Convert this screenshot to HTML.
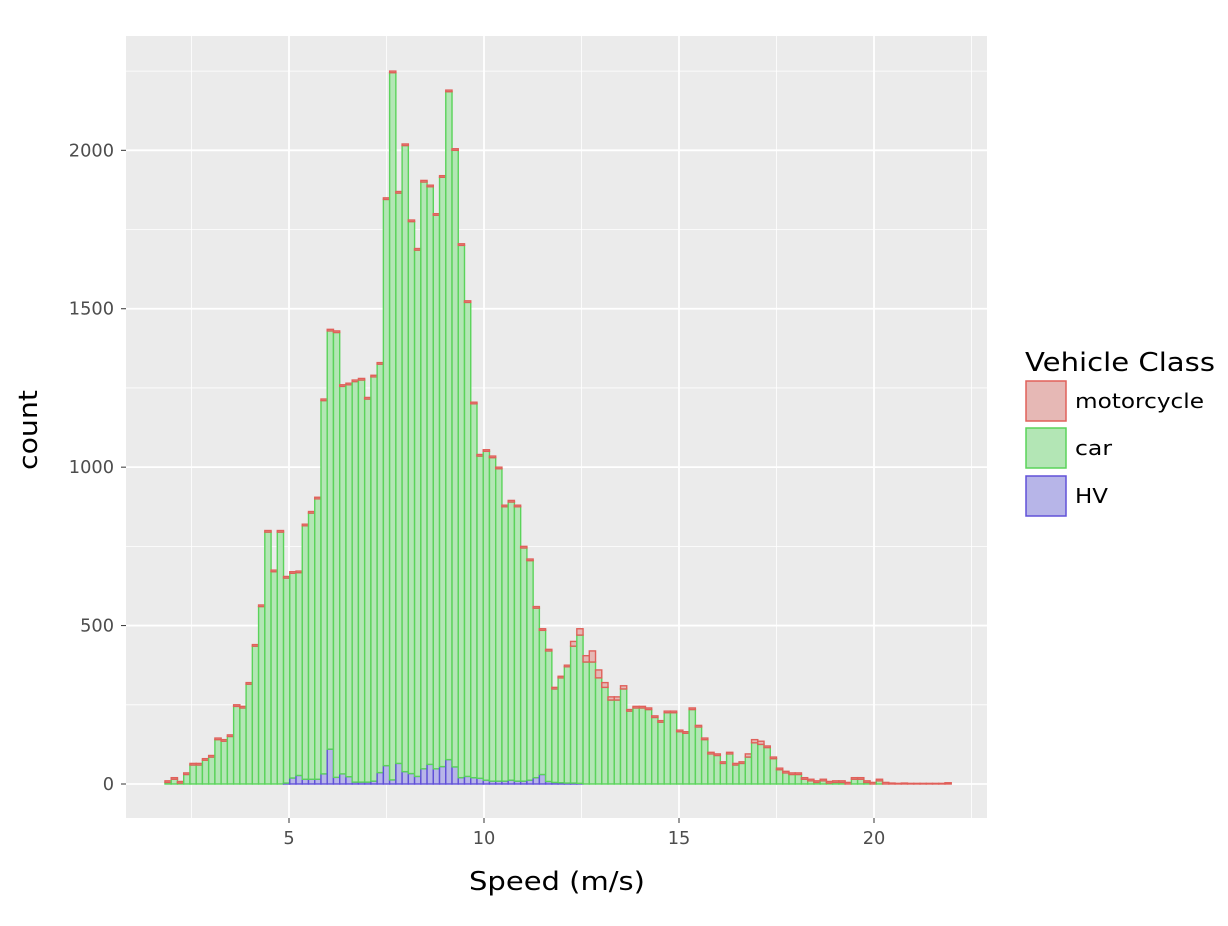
<!DOCTYPE html>
<html><head><meta charset="utf-8"><style>
html,body{margin:0;padding:0;background:#fff;}
svg text{font-family:"DejaVu Sans","Liberation Sans",sans-serif;}
</style></head><body>
<svg id="chart" width="1228" height="921" viewBox="0 0 1228 921" xmlns="http://www.w3.org/2000/svg">
<rect width="1228" height="921" fill="#fff"/>
<rect x="126" y="36" width="861" height="782" fill="#ebebeb"/>
<g id="grid"></g>
<g id="bars"></g>
<g id="axes"></g>
<text x="469" y="890" font-size="26" textLength="176" lengthAdjust="spacingAndGlyphs" fill="#000">Speed (m/s)</text>
<text x="0" y="0" font-size="26" textLength="80" lengthAdjust="spacingAndGlyphs" fill="#000" transform="translate(37,470) rotate(-90)">count</text>
<g>
<text x="1025" y="371" font-size="26" textLength="190" lengthAdjust="spacingAndGlyphs" fill="#000">Vehicle Class</text>
<g>
<rect x="1026" y="381" width="40" height="40" fill="#e6b8b5" stroke="#e0605a" stroke-width="1.5"/>
<text x="1075" y="408" font-size="20" textLength="129" lengthAdjust="spacingAndGlyphs" fill="#000">motorcycle</text></g>
<g>
<rect x="1026" y="428" width="40" height="40" fill="#b3e6b5" stroke="#5ad35a" stroke-width="1.5"/>
<text x="1075" y="455" font-size="20" textLength="37" lengthAdjust="spacingAndGlyphs" fill="#000">car</text></g>
<g>
<rect x="1026" y="476" width="40" height="40" fill="#b7b5e8" stroke="#6050d8" stroke-width="1.5"/>
<text x="1075" y="503" font-size="20" textLength="33" lengthAdjust="spacingAndGlyphs" fill="#000">HV</text></g>
</g>
</svg>
<script>
const binStart = 1.82;
const binWidth = 0.16;
const totalCounts = [10,20,8,35,65,65,80,90,145,140,155,250,245,320,440,565,800,675,800,655,
670,672,820,860,905,1215,1435,1430,1260,1265,1275,1280,1220,1290,1330,1850,2250,1870,2020,1780,
1690,1905,1890,1800,1920,2190,2005,1705,1525,1205,1040,1055,1035,1000,880,895,880,750,710,560,
490,425,305,340,375,450,490,405,420,360,320,275,275,310,235,245,245,240,215,200,
230,230,170,165,240,185,145,100,95,70,100,65,70,95,140,135,120,85,50,40,
35,35,20,15,10,15,8,10,10,5,20,20,10,5,15,5,3,2,3,2,2,2,2,2,2,4];
const hvCounts = [0,0,0,0,0,0,0,0,0,0,0,0,0,0,0,0,0,0,0,3,
19,27,15,15,15,32,110,21,32,23,6,6,6,9,36,58,13,65,39,33,
24,48,62,48,55,77,54,20,24,20,18,12,9,9,9,12,9,9,12,20,
30,8,5,4,3,3,2,0,0,0,0,0,0,0,0,0,0,0,0,0,
0,0,0,0,0,0,0,0,0,0,0,0,0,0,0,0,0,0,0,0,
0,0,0,0,0,0,0,0,0,0,0,0,0,0,0,0,0,0,0,0,0,0,0,0,0,0];
const motoCounts = [5,5,5,5,5,5,5,5,5,5,5,5,5,5,5,5,5,5,5,5,
5,5,5,5,5,5,5,5,5,5,5,5,5,5,5,5,5,5,5,5,
5,5,5,5,5,5,5,5,5,5,5,5,5,5,5,5,5,5,5,5,
5,5,5,5,5,15,20,20,35,25,15,10,10,10,5,5,5,5,5,5,
5,5,5,5,5,5,5,5,5,5,5,5,5,10,10,10,5,5,5,5,
5,5,5,5,5,5,5,5,5,5,5,5,5,5,5,5,3,2,3,2,2,2,2,2,2,4];
const xTicks = [5,10,15,20];
const yTicks = [0,500,1000,1500,2000];

const NS = "http://www.w3.org/2000/svg";
function sx(v){ return 289 + (v-5)*39; }
function sy(v){ return 784 - v*0.31684; }
function mk(tag, attrs, parent){
  const e = document.createElementNS(NS, tag);
  for (const k in attrs) e.setAttribute(k, attrs[k]);
  parent.appendChild(e); return e;
}
const grid = document.getElementById('grid');
const bars = document.getElementById('bars');
const axes = document.getElementById('axes');
for (let i=0;i<xTicks.length+1;i++){
  const v = xTicks[0]-2.5+i*5;
  const l = mk('line',{x1:sx(v),x2:sx(v),y1:36,y2:818,stroke:'#fff','stroke-width':0.8},grid);
  
  
}
for (let i=0;i<yTicks.length;i++){
  const v = yTicks[i]+250;
  const l = mk('line',{x1:126,x2:987,y1:sy(v),y2:sy(v),stroke:'#fff','stroke-width':0.8},grid);
  
  
}
xTicks.forEach(v=>{
  const l = mk('line',{x1:sx(v),x2:sx(v),y1:36,y2:818,stroke:'#fff','stroke-width':1.8},grid);
  
  
  const t = mk('line',{x1:sx(v),x2:sx(v),y1:818,y2:823,stroke:'#333','stroke-width':1},axes);
  
  
  const s = String(v);
  const tx = mk('text',{x:sx(v),y:844,'font-size':18,'text-anchor':'middle',fill:'#4d4d4d',textLength:s.length*11.3,lengthAdjust:'spacingAndGlyphs'},axes);
  tx.textContent = s;
  
  
});
yTicks.forEach(v=>{
  const l = mk('line',{x1:126,x2:987,y1:sy(v),y2:sy(v),stroke:'#fff','stroke-width':1.8},grid);
  
  
  const t = mk('line',{x1:121,x2:126,y1:sy(v),y2:sy(v),stroke:'#333','stroke-width':1},axes);
  
  
  const s = String(v);
  const tx = mk('text',{x:114,y:sy(v)+6,'font-size':18,'text-anchor':'end',fill:'#4d4d4d',textLength:s.length*11.3,lengthAdjust:'spacingAndGlyphs'},axes);
  tx.textContent = s;
  
  
});
for (let i=0;i<totalCounts.length;i++){
  const x0 = sx(binStart + i*binWidth), x1 = sx(binStart + (i+1)*binWidth);
  const hv = hvCounts[i], moto = motoCounts[i];
  const car = Math.max(0, totalCounts[i]-hv-moto);
  const segs = [[hv,0,'#b7b5e8','#6050d8','bar-hv'],[car,hv,'#b3e6b5','#5ad35a','bar-car'],[moto,hv+car,'#e6b8b5','#e0605a','bar-motorcycle']];
  segs.forEach(s=>{
    if (s[0]<=0 && s[4]!=='bar-car') return;
    const yTop = sy(s[1]+s[0]), yBot = sy(s[1]);
    const r = mk('rect',{x:x0,y:yTop,width:x1-x0,height:Math.max(0,yBot-yTop),fill:s[2],stroke:s[3],'stroke-width':1.4},bars);
    
    
  });
}
</script>
</body></html>
